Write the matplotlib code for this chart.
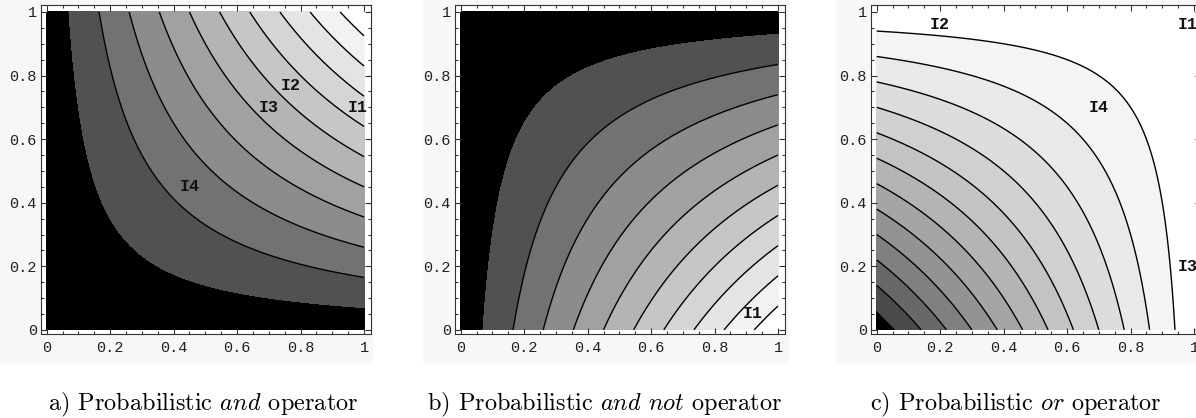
import numpy as np
import matplotlib
matplotlib.use("Agg")
import matplotlib.pyplot as plt
from matplotlib.patches import Rectangle
from matplotlib.ticker import MultipleLocator

# niveis de contorno
levels_and = [0.07, 0.165, 0.26, 0.355, 0.45, 0.545, 0.64, 0.735, 0.83, 0.925]
levels_andnot = [0.07, 0.165, 0.26, 0.355, 0.45, 0.545, 0.64, 0.735, 0.83, 0.925]
levels_or = [0.06, 0.14, 0.22, 0.30, 0.38, 0.46, 0.54, 0.62, 0.70, 0.78, 0.86, 0.94]

tick_values = [0, 0.2, 0.4, 0.6, 0.8, 1]
tick_labels = ["0", "0.2", "0.4", "0.6", "0.8", "1"]

# rotulos dentro de cada grafico: (texto, x, y)
labels_and = [("I1", 0.98, 0.70), ("I2", 0.77, 0.77), ("I3", 0.70, 0.70), ("I4", 0.45, 0.45)]
labels_andnot = [("I1", 0.92, 0.05)]
labels_or = [("I1", 0.98, 0.96), ("I2", 0.20, 0.96), ("I3", 0.98, 0.20), ("I4", 0.70, 0.70)]

captions = [r"a) Probabilistic $\mathit{and}$ operator",
            r"b) Probabilistic $\mathit{and}$ $\mathit{not}$ operator",
            r"c) Probabilistic $\mathit{or}$ operator"]

plt.rcParams["mathtext.fontset"] = "cm"

W, H = 1196, 418
fig = plt.figure(figsize=(W / 100, H / 100), dpi=100)

# fundo cinza claro de cada painel
for x0, x1 in [(0, 372), (423, 788), (836, 1196)]:
    fig.patches.append(Rectangle((x0 / W, 1 - 362 / H), (x1 - x0) / W, 362 / H,
                                 transform=fig.transFigure, color="#f7f7f7", zorder=-10))

g = np.linspace(0, 1, 400)
X, Y = np.meshgrid(g, g)
surfaces = [X * Y, X * (1 - Y), X + Y - X * Y]
all_levels = [levels_and, levels_andnot, levels_or]
all_labels = [labels_and, labels_andnot, labels_or]
frame_left = [41, 455, 871]
caption_x = [203, 604, 1016]

for i in range(3):
    ax = fig.add_axes([frame_left[i] / W, 1 - 334 / H, 330 / W, 329 / H])
    lev = all_levels[i]
    n = len(lev)
    grays = [str(np.sqrt(k / n)) for k in range(n + 1)]
    ax.contourf(X, Y, surfaces[i], levels=[-1] + lev + [2], colors=grays)
    ax.contour(X, Y, surfaces[i], levels=lev[1:], colors="black", linewidths=1.0)
    for txt, tx, ty in all_labels[i]:
        ax.text(tx, ty, txt, ha="center", va="center", fontsize=12,
                family="Liberation Mono", weight="bold", color="#111111")
    ax.set_xlim(-0.018, 1.022)
    ax.set_ylim(-0.013, 1.022)
    ax.set_xticks(tick_values)
    ax.set_xticklabels(tick_labels)
    ax.set_yticks(tick_values)
    ax.set_yticklabels(tick_labels)
    ax.xaxis.set_minor_locator(MultipleLocator(0.05))
    ax.yaxis.set_minor_locator(MultipleLocator(0.05))
    ax.tick_params(which="both", direction="in", top=True, right=True,
                   color="#333333", width=0.8, labelsize=11, labelcolor="#222222")
    ax.tick_params(which="major", length=4.5)
    ax.tick_params(which="minor", length=2.2)
    ax.tick_params(axis="x", pad=5)
    ax.tick_params(axis="y", pad=3)
    for lab in ax.get_xticklabels() + ax.get_yticklabels():
        lab.set_family("Liberation Mono")
    for sp in ax.spines.values():
        sp.set_color("#333333")
        sp.set_linewidth(0.8)
    fig.text(caption_x[i] / W, 1 - 410 / H, captions[i], ha="center", va="baseline",
             fontsize=17.5, family="cmr10")

fig.savefig("out.png", dpi=100)
